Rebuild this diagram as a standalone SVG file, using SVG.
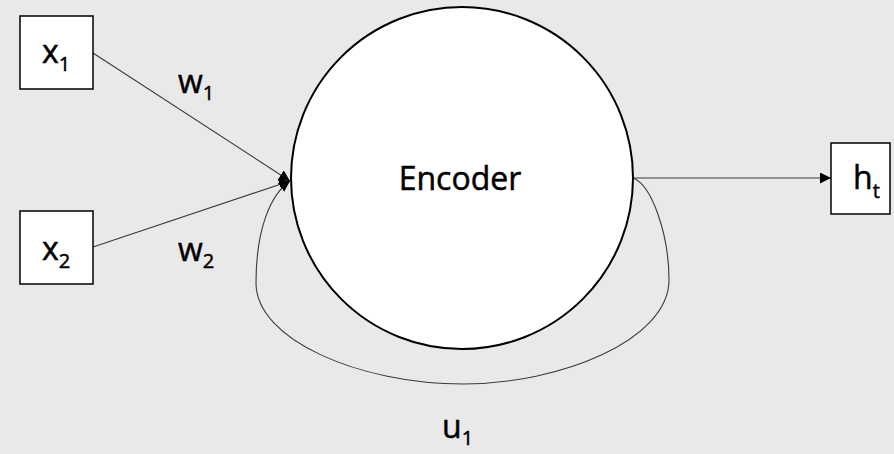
<svg xmlns="http://www.w3.org/2000/svg" width="894" height="454" viewBox="0 0 894 454">
  <style>
    .box { fill: #ffffff; stroke: #000000; stroke-width: 1.5; }
    .enc { fill: #ffffff; stroke: #000000; stroke-width: 2; }
    .edge { fill: none; stroke: #3a3a3a; stroke-width: 1.1; }
    .lbl { font-family: "Open Sans", "DejaVu Sans", sans-serif; font-size: 32px; fill: #000000; stroke: #000000; stroke-width: 0.5; }
    .sub { font-size: 20px; }
  </style>
  <defs>
    <marker id="arrow" viewBox="0 0 10 10" refX="10" refY="5" markerWidth="11" markerHeight="11" markerUnits="userSpaceOnUse" orient="auto">
      <path d="M0,0 L10,5 L0,10 z" fill="#000000"/>
    </marker>
  </defs>
  <rect width="894" height="454" fill="#e9e9e9"/>

  <!-- connectors -->
  <g id="connectors">
    <line class="edge" x1="93" y1="53" x2="290" y2="181" marker-end="url(#arrow)"/>
    <line class="edge" x1="93" y1="247" x2="290" y2="181" marker-end="url(#arrow)"/>
    <path class="edge" d="M633,178 C652,185 669,235 669,280 C669,340 560,384 463,384 C360,384 256,340 256,283 C256,230 270,195 290,181" marker-end="url(#arrow)"/>
    <line class="edge" x1="633" y1="178" x2="831" y2="178" stroke="#000000" marker-end="url(#arrow)"/>
  </g>

  <!-- weight labels -->
  <text class="lbl" x="178" y="93">w<tspan class="sub" dy="7">1</tspan></text>
  <text class="lbl" x="178" y="261">w<tspan class="sub" dy="7">2</tspan></text>
  <text class="lbl" x="442" y="438">u<tspan class="sub" dy="7">1</tspan></text>

  <g id="x1">
    <rect class="box" x="20" y="16" width="73" height="73"/>
    <text class="lbl" x="42" y="63">x<tspan class="sub" dy="8">1</tspan></text>
  </g>

  <g id="x2">
    <rect class="box" x="20" y="211" width="73" height="73"/>
    <text class="lbl" x="42" y="260">x<tspan class="sub" dy="8">2</tspan></text>
  </g>

  <g id="encoder">
    <circle class="enc" cx="462" cy="178" r="171"/>
    <text class="lbl" x="460" y="190" text-anchor="middle" stroke-width="0.3">Encoder</text>
  </g>

  <g id="ht">
    <rect class="box" x="831" y="143" width="59" height="71"/>
    <text class="lbl" x="853" y="189">h<tspan class="sub" dy="9">t</tspan></text>
  </g>
</svg>
